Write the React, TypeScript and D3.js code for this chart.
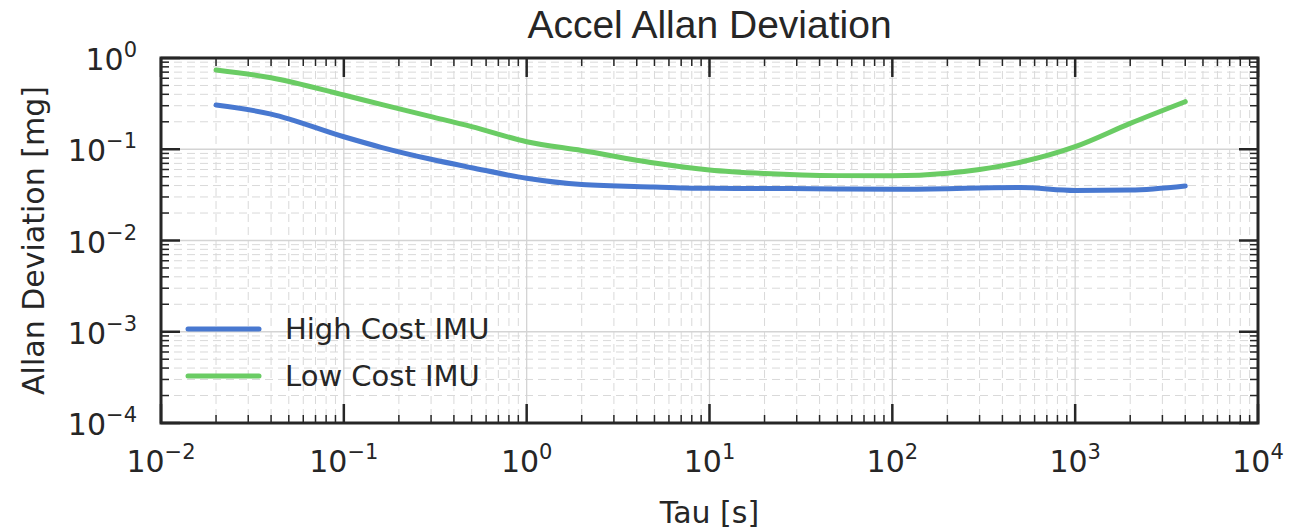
import React from "react";
import * as d3 from "d3";

const TAU = [0.02, 0.04, 0.1, 0.16, 0.3, 0.5, 1, 2, 5, 10, 20, 50, 100, 200, 300, 500, 1000, 2000, 4000];
const HIGH_COST = [0.305, 0.243, 0.137, 0.105, 0.0776, 0.0628, 0.048, 0.041, 0.0386, 0.0373, 0.0372, 0.0367, 0.0365, 0.037, 0.0376, 0.038, 0.0353, 0.0357, 0.0396];
const LOW_COST = [0.739, 0.608, 0.393, 0.31, 0.228, 0.177, 0.121, 0.097, 0.0707, 0.0593, 0.0542, 0.0514, 0.0512, 0.0546, 0.06, 0.072, 0.1067, 0.192, 0.332];
const SERIES = [
  { name: "High Cost IMU", values: HIGH_COST, color: "#4878D0" },
  { name: "Low Cost IMU", values: LOW_COST, color: "#6ACC64" },
];
const X_EXPONENTS = [-2, -1, 0, 1, 2, 3, 4];
const Y_EXPONENTS = [-4, -3, -2, -1, 0];

const W = 1298, H = 529;
const L = 161, R = 1258, T = 58, B = 423;

export default function App() {
  const x = d3.scaleLog().domain([1e-2, 1e4]).range([L, R]);
  const y = d3.scaleLog().domain([1e-4, 1]).range([B, T]);

  const xMinor: number[] = [];
  for (let e = -2; e < 4; e++) for (let m = 2; m <= 9; m++) xMinor.push(m * Math.pow(10, e));
  const yMinor: number[] = [];
  for (let e = -4; e < 0; e++) for (let m = 2; m <= 9; m++) yMinor.push(m * Math.pow(10, e));

  const line = d3
    .line<number>()
    .x((_, i) => x(TAU[i]))
    .y((d) => y(d))
    .curve(d3.curveMonotoneX);

  const font = "'DejaVu Sans', sans-serif";
  const txt = "#262626";
  const major = 19, minor = 8;

  return (
    <svg width={W} height={H} style={{ position: "absolute", left: 0, top: 0, background: "#fff" }}>
      {/* minor grid */}
      <g stroke="#d9d9d9" strokeWidth={1} strokeDasharray="8,5">
        {xMinor.map((v, i) => (
          <line key={"gx" + i} x1={x(v)} x2={x(v)} y1={T} y2={B} />
        ))}
        {yMinor.map((v, i) => (
          <line key={"gy" + i} x1={L} x2={R} y1={y(v)} y2={y(v)} />
        ))}
      </g>
      {/* major grid */}
      <g stroke="#d4d4d4" strokeWidth={1.3}>
        {X_EXPONENTS.map((e) => (
          <line key={"Mx" + e} x1={x(Math.pow(10, e))} x2={x(Math.pow(10, e))} y1={T} y2={B} />
        ))}
        {Y_EXPONENTS.map((e) => (
          <line key={"My" + e} x1={L} x2={R} y1={y(Math.pow(10, e))} y2={y(Math.pow(10, e))} />
        ))}
      </g>
      {/* series */}
      {SERIES.map((s) => (
        <path key={s.name} d={line(s.values) || ""} fill="none" stroke={s.color} strokeWidth={5} strokeLinecap="round" strokeLinejoin="round" />
      ))}
      {/* ticks */}
      <g stroke="#262626">
        {X_EXPONENTS.map((e) => {
          const px = x(Math.pow(10, e));
          return (
            <g key={"tx" + e} strokeWidth={2.5}>
              <line x1={px} x2={px} y1={B} y2={B - major} />
              <line x1={px} x2={px} y1={T} y2={T + major} />
            </g>
          );
        })}
        {xMinor.map((v, i) => (
          <g key={"tmx" + i} strokeWidth={1.5}>
            <line x1={x(v)} x2={x(v)} y1={B} y2={B - minor} />
            <line x1={x(v)} x2={x(v)} y1={T} y2={T + minor} />
          </g>
        ))}
        {Y_EXPONENTS.map((e) => {
          const py = y(Math.pow(10, e));
          return (
            <g key={"ty" + e} strokeWidth={2.5}>
              <line x1={L} x2={L + major} y1={py} y2={py} />
              <line x1={R} x2={R - major} y1={py} y2={py} />
            </g>
          );
        })}
        {yMinor.map((v, i) => (
          <g key={"tmy" + i} strokeWidth={1.5}>
            <line x1={L} x2={L + minor} y1={y(v)} y2={y(v)} />
            <line x1={R} x2={R - minor} y1={y(v)} y2={y(v)} />
          </g>
        ))}
      </g>
      {/* frame */}
      <rect x={L} y={T} width={R - L} height={B - T} fill="none" stroke="#262626" strokeWidth={3} />
      {/* tick labels */}
      <g fill={txt} fontFamily={font}>
        {X_EXPONENTS.map((e) => (
          <text key={"lx" + e} x={x(Math.pow(10, e))} y={472} textAnchor="middle" fontSize={30}>
            10
            <tspan fontSize={21} dy={-13}>{e < 0 ? "\u2212" + Math.abs(e) : String(e)}</tspan>
          </text>
        ))}
        {Y_EXPONENTS.map((e) => (
          <text key={"ly" + e} x={137} y={y(Math.pow(10, e)) + 12} textAnchor="end" fontSize={30}>
            10
            <tspan fontSize={21} dy={-13}>{e < 0 ? "\u2212" + Math.abs(e) : String(e)}</tspan>
          </text>
        ))}
      </g>
      {/* axis labels */}
      <text x={(L + R) / 2} y={523} textAnchor="middle" fontFamily={font} fontSize={30} fill={txt}>
        Tau [s]
      </text>
      <text
        transform={`translate(44,${(T + B) / 2}) rotate(-90)`}
        textAnchor="middle"
        fontFamily={font}
        fontSize={30}
        fill={txt}
      >
        Allan Deviation [mg]
      </text>
      {/* title */}
      <text x={(L + R) / 2} y={38} textAnchor="middle" fontFamily="'Liberation Sans', Arial, sans-serif" fontSize={39} fill={txt}>
        Accel Allan Deviation
      </text>
      {/* legend */}
      {SERIES.map((s, i) => (
        <g key={"leg" + i}>
          <line x1={188} x2={259} y1={329 + i * 47} y2={329 + i * 47} stroke={s.color} strokeWidth={5} strokeLinecap="round" />
          <text x={285} y={339 + i * 47} fontFamily={font} fontSize={29} fill={txt}>
            {s.name}
          </text>
        </g>
      ))}
    </svg>
  );
}
